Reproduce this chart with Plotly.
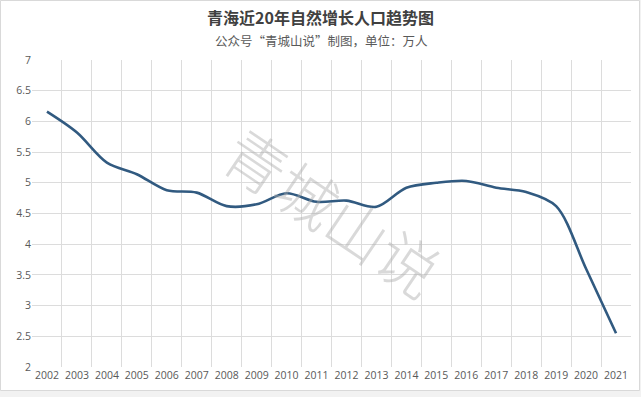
import plotly.graph_objects as go

years = [str(y) for y in range(2002, 2022)]
growth = [6.16, 5.82, 5.33, 5.14, 4.88, 4.84, 4.62, 4.65, 4.83, 4.69,
          4.71, 4.61, 4.92, 5.00, 5.03, 4.92, 4.85, 4.62, 3.60, 2.55]
y_ticks = [2, 2.5, 3, 3.5, 4, 4.5, 5, 5.5, 6, 6.5, 7]

title_text = "青海近20年自然增长人口趋势图"
subtitle_text = "公众号“青城山说”制图，单位：万人"
watermark = "青城山说"

W, H = 641, 397
L, R, T, B = 32, 10, 60, 30
pw, ph = W - L - R, H - T - B

def px(x):
    return (x - L) / pw

def py(y):
    return (H - B - y) / ph

fig = go.Figure()
fig.add_trace(go.Scatter(
    x=years, y=growth, mode="lines",
    line=dict(color="#315a80", width=2.6, shape="spline", smoothing=0.9),
    hoverinfo="x+y", showlegend=False,
))

font_family = "Noto Sans CJK SC, Microsoft YaHei, sans-serif"
tick_family = "Open Sans, Noto Sans, sans-serif"

fig.update_layout(
    width=W, height=H,
    margin=dict(l=L, r=R, t=T, b=B, autoexpand=False),
    paper_bgcolor="#f2f2f2",
    plot_bgcolor="white",
    font=dict(family=font_family, color="#595959", size=11),
    xaxis=dict(
        type="category", tickson="boundaries", range=[-0.5, 19.5],
        showgrid=True, gridcolor="#dcdcdc", gridwidth=1,
        showline=False, zeroline=False, ticks="", ticklen=0,
        tickangle=0, automargin=False,
        tickfont=dict(size=10.5, color="#595959", family=tick_family),
    ),
    yaxis=dict(
        range=[2, 7], tickvals=y_ticks, automargin=False,
        showgrid=True, gridcolor="#dcdcdc", gridwidth=1,
        showline=False, zeroline=False, ticks="",
        tickfont=dict(size=10.5, color="#595959", family=tick_family),
    ),
    shapes=[dict(
        type="rect", xref="paper", yref="paper",
        x0=px(0.5), x1=px(639.5), y0=py(390.5), y1=py(0.5),
        fillcolor="white", line=dict(color="#d9d9d9", width=1), layer="below",
    )],
    annotations=[
        dict(text=title_text, xref="paper", yref="paper", x=px(320), y=py(17),
             xanchor="center", yanchor="middle", showarrow=False,
             font=dict(size=16, color="#404040", family=font_family, weight="bold")),
        dict(text=subtitle_text, xref="paper", yref="paper", x=px(321), y=py(41),
             xanchor="center", yanchor="middle", showarrow=False,
             font=dict(size=12.5, color="#595959", family=font_family)),
        dict(text=watermark, xref="paper", yref="paper", x=px(334), y=py(210),
             xanchor="center", yanchor="middle", showarrow=False, textangle=34,
             font=dict(size=61, color="rgba(170,170,170,0.45)", family=font_family, weight=300)),
    ],
)

fig.write_html("out.html", config={"displayModeBar": False},
               post_script="document.body.style.margin='0';document.body.style.overflow='hidden';")
